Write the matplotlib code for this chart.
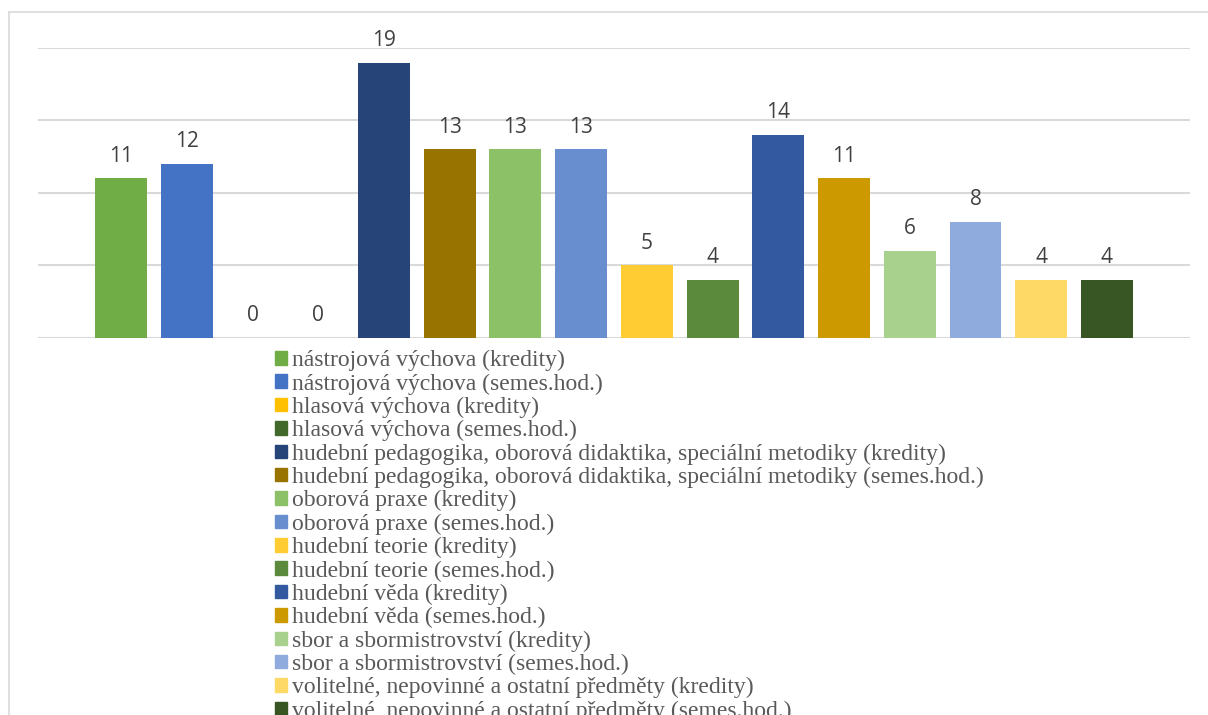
import matplotlib.pyplot as plt
from matplotlib.patches import Rectangle
from matplotlib.lines import Line2D

labels = [
    "nástrojová výchova (kredity)",
    "nástrojová výchova (semes.hod.)",
    "hlasová výchova (kredity)",
    "hlasová výchova (semes.hod.)",
    "hudební pedagogika, oborová didaktika, speciální metodiky (kredity)",
    "hudební pedagogika, oborová didaktika, speciální metodiky (semes.hod.)",
    "oborová praxe (kredity)",
    "oborová praxe (semes.hod.)",
    "hudební teorie (kredity)",
    "hudební teorie (semes.hod.)",
    "hudební věda (kredity)",
    "hudební věda (semes.hod.)",
    "sbor a sbormistrovství (kredity)",
    "sbor a sbormistrovství (semes.hod.)",
    "volitelné, nepovinné a ostatní předměty (kredity)",
    "volitelné, nepovinné a ostatní předměty (semes.hod.)",
]
values = [11, 12, 0, 0, 19, 13, 13, 13, 5, 4, 14, 11, 6, 8, 4, 4]
colors = ["#70AD47", "#4472C4", "#FFC000", "#43682B", "#264478", "#997300",
          "#8CC168", "#698ED0", "#FFCD33", "#5B8A3C", "#335AA1", "#CC9900",
          "#A9D18E", "#8FAADC", "#FFD966", "#375623"]

W, H = 1208, 715
fig = plt.figure(figsize=(W / 100, H / 100), dpi=100)

# chart border (cut off at right and bottom like the screenshot)
fig.add_artist(Line2D([8.5 / W, 8.5 / W], [0, 1 - 11.5 / H], transform=fig.transFigure,
                      color="#D9D9D9", lw=1.2))
fig.add_artist(Line2D([8.5 / W, 1.0], [1 - 11.5 / H, 1 - 11.5 / H], transform=fig.transFigure,
                      color="#D9D9D9", lw=1.2))

left, right = 38 / W, 1190 / W
bottom, top = 1 - 338 / H, 1 - 48 / H
ax = fig.add_axes([left, bottom, right - left, top - bottom])

x = list(range(len(values)))
ax.bar(x, values, width=0.79, color=colors, zorder=3)
for xi, v in zip(x, values):
    ax.annotate(str(v), (xi, v), xytext=(0, 16), textcoords="offset points",
                ha="center", va="center", fontsize=15, color="#404040",
                family="Open Sans")

ax.set_xlim(-1.263, 15 + 1.263)
ax.set_ylim(0, 20)
ax.set_yticks([0, 5, 10, 15, 20])
ax.grid(axis="y", color="#D9D9D9", lw=1.5, zorder=0)
ax.tick_params(left=False, bottom=False, labelleft=False, labelbottom=False)
for s in ax.spines.values():
    s.set_visible(False)

handles = [Rectangle((0, 0), 1, 1, color=c) for c in colors]
leg = fig.legend(handles, labels, loc="upper left",
                 bbox_to_anchor=(275 / W, 1 - 350 / H), frameon=False,
                 prop={"family": "Liberation Serif", "size": 17},
                 labelspacing=0.093, handlelength=0.5, handleheight=0.5,
                 handletextpad=0.2, borderpad=0, borderaxespad=0)
for t in leg.get_texts():
    t.set_color("#595959")

fig.savefig("out.png", dpi=100)
